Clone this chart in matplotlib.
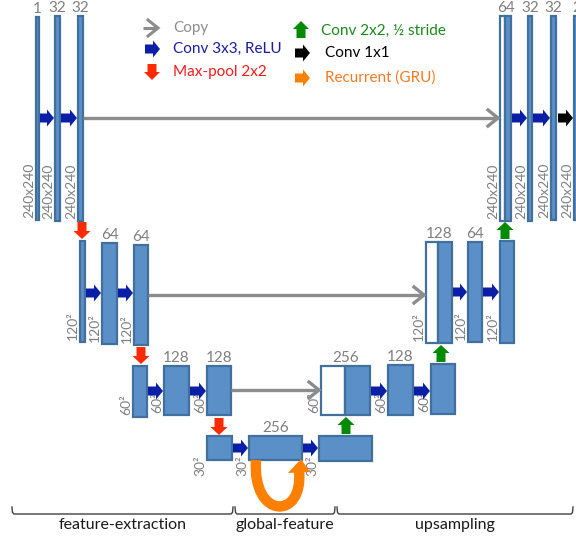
import numpy as np
import matplotlib
matplotlib.use("Agg")
from matplotlib import pyplot as plt
from matplotlib.patches import Rectangle, Polygon, PathPatch
from matplotlib.path import Path

plt.rcParams["font.family"] = ["Lato", "DejaVu Sans"]

# blocks, left to right along the U: encoder, bottom, decoder
channel_labels = ["1", "32", "32", "", "64", "64", "", "128", "128",
                  "", "256", "",
                  "256", "128", "", "128", "64", "", "64", "32", "32", "2"]
size_labels = (["240x240"] * 3 + ["120\u00b2"] * 3 + ["60\u00b2"] * 3
               + ["30\u00b2"] * 3 + ["60\u00b2"] * 3 + ["120\u00b2"] * 3
               + ["240x240"] * 4)

legend_left = ["Copy", "Conv 3x3, ReLU", "Max-pool 2x2"]
legend_right = ["Conv 2x2, \u00bd stride", "Conv 1x1", "Recurrent (GRU)"]
sections = ["feature-extraction", "global-feature", "upsampling"]

# layout in pixels: x0, x1, y0, y1, end of white (copied) part or None
boxes = [
    (36, 39, 17, 220, None), (55, 60, 16, 221, None), (78, 83, 16, 221, None),
    (80, 85, 241, 342, None), (102, 117, 243, 344, None), (134, 148, 245, 345, None),
    (133, 147, 366, 417, None), (164, 189, 366, 415, None), (207, 231, 366, 415, None),
    (207, 232, 436, 460, None), (249, 302, 436, 460, None), (319, 372, 436, 461, None),
    (321, 370, 366, 415, 345), (388, 413, 365, 415, None), (431, 455, 364, 414, None),
    (426, 452, 242, 343, 438), (468, 482, 242, 342, None), (500, 514, 241, 343, None),
    (500, 511, 16, 221, 505), (528, 532, 16, 221, None), (551, 556, 16, 220, None),
    (574, 579, 16, 220, None),
]

FILL = "#5b8fc8"
EDGE = "#41709c"
BLUE = "#0a1fa6"
RED = "#ff2a00"
GREEN = "#008a00"
ORANGE = "#ff8000"
GREY = "#8c8c8c"
LABEL = "#7f7f7f"

fig = plt.figure(figsize=(5.76, 5.37), dpi=100)
ax = fig.add_axes([0, 0, 1, 1])
ax.set_xlim(0, 576)
ax.set_ylim(537, 0)
ax.axis("off")


def fat_arrow(x, y, dx, dy, color, length=15, width=17, body=9, head=7):
    d = np.array([dx, dy], float)
    n = np.array([-dy, dx], float)
    local = [(0, -body / 2), (length - head, -body / 2), (length - head, -width / 2),
             (length, 0), (length - head, width / 2), (length - head, body / 2),
             (0, body / 2)]
    pts = [np.array([x, y]) + u * d + v * n for u, v in local]
    ax.add_patch(Polygon(pts, closed=True, fc=color, ec="none", zorder=4))


def copy_arrow(x0, x1, y, lw=2.4):
    ax.plot([x0, x1 - 1], [y, y], color=GREY, lw=lw, solid_capstyle="butt", zorder=3)
    ax.plot([x1 - 10, x1, x1 - 10], [y - 8, y, y + 8], color=GREY, lw=lw,
            solid_joinstyle="miter", zorder=3)


for (x0, x1, y0, y1, split), ch, sz in zip(boxes, channel_labels, size_labels):
    if split is None:
        ax.add_patch(Rectangle((x0, y0), x1 - x0, y1 - y0, fc=FILL, ec=EDGE,
                               lw=1.6, zorder=2))
    else:
        ax.add_patch(Rectangle((x0, y0), split - x0, y1 - y0, fc="white", ec=EDGE,
                               lw=1.6, zorder=2))
        ax.add_patch(Rectangle((split, y0), x1 - split, y1 - y0, fc=FILL, ec=EDGE,
                               lw=1.6, zorder=2))
    if ch:
        ax.text((x0 + x1) / 2, y0 - 8, ch, ha="center", va="center",
                fontsize=11, color=LABEL)
    ax.text(x0 - 7, max(y1 - 2, y0 + 40), sz, rotation=90, ha="center",
            va="bottom", fontsize=10, color=LABEL)

# conv 3x3 arrows inside each level
levels = [[0, 1, 2], [3, 4, 5], [6, 7, 8], [9, 10, 11], [12, 13, 14],
          [15, 16, 17], [18, 19, 20]]
mids = [118, 293, 391, 448, 391, 292, 118]
for idx, ym in zip(levels, mids):
    for a, b in zip(idx[:-1], idx[1:]):
        xa = boxes[a][1] + 1
        xb = boxes[b][0] - 1
        fat_arrow(xa, ym, 1, 0, BLUE, length=xb - xa)
# final 1x1 conv
fat_arrow(boxes[20][1] + 2, 118, 1, 0, "black", length=boxes[21][0] - boxes[20][1] - 3)

# copy connections
copy_arrow(83, 498, 118)
copy_arrow(148, 424, 295)
copy_arrow(231, 319, 390)

# max-pool arrows (pointing down)
for x, ytop in [(82, 222), (141, 347), (219, 418)]:
    fat_arrow(x, ytop, 0, 1, RED, length=17, width=17, body=9, head=8)

# up-convolution arrows (pointing up)
for x, ybot in [(505, 239), (441, 362), (346, 434)]:
    fat_arrow(x, ybot, 0, -1, GREEN, length=17, width=17, body=9, head=8)

# recurrent loop below the bottom block
loop = Path([(256, 460), (252, 520), (304, 520), (299, 471)],
            [Path.MOVETO, Path.CURVE4, Path.CURVE4, Path.CURVE4])
ax.add_patch(PathPatch(loop, fc="none", ec=ORANGE, lw=7.5, capstyle="butt", zorder=3))
ax.add_patch(Polygon([(288, 473), (310, 472), (301, 459)], closed=True,
                     fc=ORANGE, ec="none", zorder=3))

# legend
copy_arrow(143, 158, 28, lw=2.2)
fat_arrow(145, 49, 1, 0, BLUE)
fat_arrow(152, 64, 0, 1, RED, length=16, width=16, body=9, head=8)
fat_arrow(301, 38, 0, -1, GREEN, length=17, width=16, body=9, head=8)
fat_arrow(295, 53, 1, 0, "black")
fat_arrow(295, 78, 1, 0, ORANGE)
left_colors = [GREY, "#1c1ca6", "#ff1a1a"]
right_colors = ["#1a8a1a", "black", "#f57a24"]
for txt, y, c in zip(legend_left, [28, 49, 72], left_colors):
    ax.text(173, y, txt, ha="left", va="center", fontsize=11, color=c)
for txt, (x, y), c in zip(legend_right, [(321, 31), (325, 53), (325, 78)], right_colors):
    ax.text(x, y, txt, ha="left", va="center", fontsize=11, color=c)

# section brackets
spans = [(12, 233), (235, 335), (337, 573)]
for (x0, x1), name in zip(spans, sections):
    ax.plot([x0, x0 + 0.5, x0 + 2, x1 - 2, x1 - 0.5, x1],
            [507, 512.5, 514, 514, 512.5, 507], color="#404040", lw=1.0)
    ax.text((x0 + x1) / 2, 525, name, ha="center", va="center",
            fontsize=11.5, color="#1a1a1a")

fig.savefig("out.png", dpi=100)
